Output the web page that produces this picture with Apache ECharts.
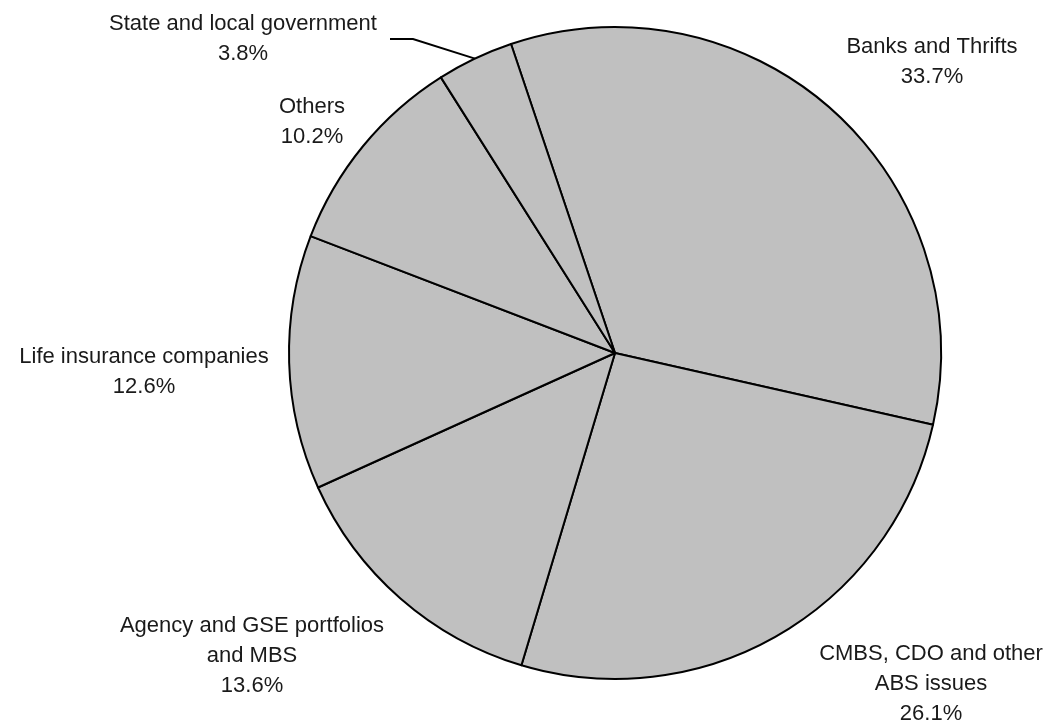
<!DOCTYPE html>
<html>
<head>
<meta charset="utf-8">
<script src="https://cdn.jsdelivr.net/npm/echarts@6/dist/echarts.min.js"></script>
<style>
html,body{margin:0;padding:0;background:#fff;}
#chart{width:1043px;height:723px;}
</style>
</head>
<body>
<div id="chart"></div>
<script>
// Data
const categories = [
  "Banks and Thrifts",
  "CMBS, CDO and other\nABS issues",
  "Agency and GSE portfolios\nand MBS",
  "Life insurance companies",
  "Others",
  "State and local government"
];
const shares = [33.7, 26.1, 13.6, 12.6, 10.2, 3.8];

// Label placement (layout only)
const labelPos = [
  [932, 62],
  [931, 684],
  [252, 656],
  [144, 372],
  [312, 122],
  [243, 39]
];

const chart = echarts.init(document.getElementById('chart'), null, {renderer: 'canvas'});
const data = categories.map((c, i) => ({
  name: c,
  value: shares[i],
  labelLine: { show: i === 5 }
}));

chart.setOption({
  animation: false,
  backgroundColor: '#ffffff',
  series: [{
    type: 'pie',
    center: [615, 353],
    radius: 326,
    startAngle: 108.6,
    clockwise: true,
    silent: true,
    data: data,
    itemStyle: { color: '#c0c0c0', borderColor: '#000000', borderWidth: 2 },
    label: {
      show: true,
      position: 'outside',
      overflow: 'none',
      formatter: p => p.name + '\n' + p.value.toFixed(1) + '%',
      fontFamily: 'Liberation Sans, Arial, sans-serif',
      fontSize: 22,
      lineHeight: 30,
      color: '#1a1a1a',
      align: 'center'
    },
    labelLine: { show: false, lineStyle: { color: '#000', width: 2 }, length: 20, length2: 20 },
    labelLayout: function (params) {
      const p = labelPos[params.dataIndex];
      const res = { x: p[0], y: p[1], align: 'center', verticalAlign: 'middle' };
      if (params.dataIndex === 5 && params.labelLinePoints) {
        res.labelLinePoints = [params.labelLinePoints[0], [413, 39], [390, 39]];
      }
      return res;
    },
    emphasis: { disabled: true }
  }]
});
</script>
</body>
</html>
